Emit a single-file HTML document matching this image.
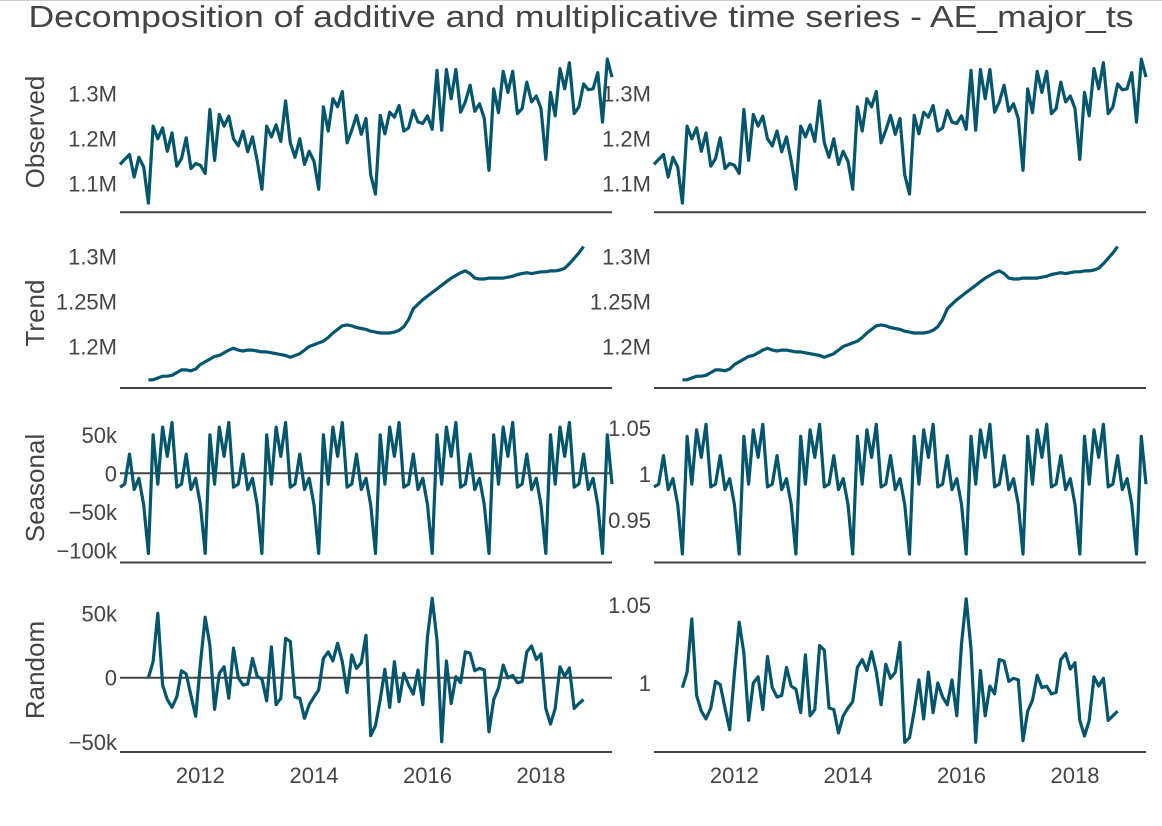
<!DOCTYPE html>
<html><head><meta charset="utf-8">
<style>
html,body{margin:0;padding:0;background:#fff;}
svg{display:block;font-family:"Liberation Sans",sans-serif;}
</style></head>
<body>
<svg id="chart" width="1162" height="826" viewBox="0 0 1162 826">
<rect x="0" y="0" width="1162" height="826" fill="#fff"/>
<line x1="0" y1="0.5" x2="1162" y2="0.5" stroke="#ccc" stroke-width="1"/>
<text x="581" y="27" text-anchor="middle" font-size="31" fill="#444" textLength="1105" lengthAdjust="spacingAndGlyphs">Decomposition of additive and multiplicative time series - AE_major_ts</text>
<g id="plots"></g>
</svg>
<script>
// Data (monthly, starting Aug 2010)
const startYear = 2010;
const startMonth = 8;
const observed = [1.142,1.153,1.164,1.114,1.158,1.136,1.056,1.227,1.199,1.223,1.171,1.212,1.138,1.155,1.201,1.133,1.144,1.140,1.122,1.264,1.151,1.253,1.227,1.249,1.199,1.183,1.216,1.170,1.203,1.150,1.087,1.227,1.203,1.230,1.193,1.283,1.190,1.158,1.199,1.142,1.171,1.149,1.087,1.270,1.216,1.288,1.270,1.304,1.190,1.218,1.251,1.209,1.244,1.119,1.076,1.251,1.210,1.258,1.247,1.273,1.216,1.223,1.262,1.236,1.233,1.250,1.220,1.351,1.218,1.353,1.288,1.353,1.258,1.281,1.318,1.260,1.277,1.244,1.129,1.310,1.257,1.349,1.302,1.349,1.255,1.266,1.325,1.281,1.294,1.266,1.153,1.302,1.250,1.355,1.310,1.368,1.255,1.270,1.321,1.308,1.310,1.346,1.236,1.376,1.336];
const trendStart = 6;
const trend = [1.163,1.163,1.165,1.167,1.167,1.168,1.171,1.174,1.174,1.173,1.175,1.180,1.183,1.186,1.189,1.190,1.193,1.196,1.198,1.196,1.195,1.196,1.196,1.195,1.194,1.194,1.193,1.192,1.191,1.190,1.188,1.190,1.192,1.196,1.200,1.202,1.204,1.206,1.210,1.215,1.219,1.223,1.224,1.223,1.221,1.220,1.219,1.217,1.216,1.215,1.215,1.215,1.216,1.218,1.222,1.230,1.242,1.247,1.252,1.256,1.260,1.264,1.268,1.272,1.276,1.279,1.282,1.284,1.281,1.276,1.275,1.275,1.276,1.276,1.276,1.276,1.277,1.278,1.280,1.281,1.282,1.281,1.282,1.283,1.283,1.284,1.284,1.285,1.287,1.292,1.298,1.304,1.311];
// seasonal pattern, Aug..Jul
const seasonalAdd = [-18,-14,25,-21,-6.5,-41,-104,50,-14,60,22,66];
const seasonalMult = [0.986,0.989,1.020,0.983,0.995,0.967,0.913,1.041,0.989,1.048,1.018,1.054];
const randomAdd = [0,12.4,50,-5.7,-17,-23,-15,5.4,2.9,-14,-30,11,47,25,-24.5,3.4,8.5,-16,23,0,-5.7,-5,15,1,-1,-18,24,-21,-16,30.6,28,-15,-16,-31.5,-21,-15,-9.5,15,20,13,26.7,12.4,-11.6,17.6,7.3,11.6,33,-45,-37,-17,6.5,-23,12.4,-18.6,3.4,-5.7,-12.7,6,-21,31.8,61.6,29,-49.7,13,-20,0.8,-3.9,20,19,5.4,7.3,6,-42,-17,-8,9.8,0,1.8,-3.9,-3,20,24.6,14.2,18.4,-23.8,-36,-23.8,8.5,1,7.6,-23.8,-20,-17];
const randomMult = [0.997,1.007,1.041,0.992,0.982,0.977,0.984,1.001,0.999,0.984,0.970,1.006,1.039,1.019,0.976,1.000,1.004,0.983,1.017,0.997,0.991,0.992,1.010,0.998,0.996,0.981,1.018,0.979,0.983,1.024,1.021,0.984,0.983,0.968,0.979,0.984,0.988,1.010,1.015,1.008,1.020,1.007,0.986,1.012,1.003,1.007,1.026,0.962,0.965,0.982,1.002,0.977,1.007,0.981,1.000,0.991,0.986,1.002,0.979,1.025,1.054,1.022,0.962,1.008,0.979,0.998,0.993,1.015,1.014,1.001,1.003,1.002,0.963,0.982,0.989,1.005,0.997,0.998,0.993,0.994,1.015,1.019,1.009,1.013,0.976,0.966,0.976,1.004,0.998,1.003,0.976,0.979,0.982];
const xTicks = [2012,2014,2016,2018];
const obsTicks = [1.1,1.2,1.3];
const obsTickLabels = ["1.1M","1.2M","1.3M"];
const trendTicks = [1.2,1.25,1.3];
const trendTickLabels = ["1.2M","1.25M","1.3M"];
const seasAddTicks = [-100,-50,0,50];
const seasAddTickLabels = ["\u2212100k","\u221250k","0","50k"];
const seasMultTicks = [0.95,1,1.05];
const seasMultTickLabels = ["0.95","1","1.05"];
const randAddTicks = [-50,0,50];
const randAddTickLabels = ["\u221250k","0","50k"];
const randMultTicks = [1,1.05];
const randMultTickLabels = ["1","1.05"];

const NS = "http://www.w3.org/2000/svg";
const g = document.getElementById("plots");
const N = observed.length;
const t0 = startYear + (startMonth - 1) / 12;
const t1 = t0 + (N - 1) / 12;
function xScale(t, left) { const x0 = left ? 120 : 654; return x0 + (t - t0) / (t1 - t0) * 492; }
function tOf(i) { return t0 + i / 12; }
function mk(tag, attrs) { const e = document.createElementNS(NS, tag); for (const k in attrs) e.setAttribute(k, attrs[k]); return e; }

const yObs = v => 93.3 + (1.3 - v) * 450;
const yTrend = v => 256.5 + (1.3 - v) * 900;
const ySeasA = v => 473.3 - v * 0.77;
const ySeasM = v => 474 - (v - 1) * 920;
const yRandA = v => 677.7 - v * 1.288;
const yRandM = v => 683 - (v - 1) * 1560;

function drawLine(vals, offset, yf, left, name) {
  let d = "";
  vals.forEach((v, k) => { const x = xScale(tOf(k + offset), left); d += (k ? "L" : "M") + x.toFixed(1) + "," + yf(v).toFixed(1); });
  const p = mk("path", {d: d, fill: "none", stroke: "#03566d", "stroke-width": 3.2, "stroke-linejoin": "round"});
  
  
  g.appendChild(p);
}
function axisLine(y, left, name) {
  const x0 = left ? 120 : 654;
  const l = mk("line", {x1: x0, x2: x0 + 492, y1: y, y2: y, stroke: "#444", "stroke-width": 2});
  
  
  g.appendChild(l);
}
function yTicks(ticks, labels, yf, left, name) {
  const xr = left ? 117 : 651;
  ticks.forEach((v, k) => {
    const t = mk("text", {x: xr, y: (yf(v) + 8).toFixed(1), "text-anchor": "end", "font-size": 22, fill: "#444"});
    t.textContent = labels[k];
    
    
    g.appendChild(t);
  });
}
function yTitle(txt, cy, name) {
  const t = mk("text", {x: 0, y: 0, "text-anchor": "middle", "font-size": 26, fill: "#444", transform: "translate(44," + cy + ") rotate(-90)"});
  t.textContent = txt;
  
  
  g.appendChild(t);
}

const seasA = [], seasM = [];
for (let i = 0; i < N; i++) { seasA.push(seasonalAdd[i % 12]); seasM.push(seasonalMult[i % 12]); }

axisLine(473.3, true, "seasonal-zero-line");
axisLine(677.7, true, "random-zero-line");

[true, false].forEach(left => {
  const side = left ? "additive" : "multiplicative";
  axisLine(212.3, left, side + "-observed-x-axis");
  axisLine(388, left, side + "-trend-x-axis");
  axisLine(562.5, left, side + "-seasonal-x-axis");
  axisLine(752, left, side + "-random-x-axis");
  drawLine(observed, 0, yObs, left, side + "-observed-line");
  drawLine(trend, trendStart, yTrend, left, side + "-trend-line");
  yTicks(obsTicks, obsTickLabels, yObs, left, side + "-observed-tick");
  yTicks(trendTicks, trendTickLabels, yTrend, left, side + "-trend-tick");
  xTicks.forEach(yr => {
    const t = mk("text", {x: xScale(yr, left).toFixed(1), y: 783, "text-anchor": "middle", "font-size": 22, fill: "#444"});
    t.textContent = yr;
    
    
    g.appendChild(t);
  });
});
drawLine(seasA, 0, ySeasA, true, "additive-seasonal-line");
drawLine(seasM, 0, ySeasM, false, "multiplicative-seasonal-line");
drawLine(randomAdd, trendStart, yRandA, true, "additive-random-line");
drawLine(randomMult, trendStart, yRandM, false, "multiplicative-random-line");
yTicks(seasAddTicks, seasAddTickLabels, ySeasA, true, "additive-seasonal-tick");
yTicks(seasMultTicks, seasMultTickLabels, ySeasM, false, "multiplicative-seasonal-tick");
yTicks(randAddTicks, randAddTickLabels, yRandA, true, "additive-random-tick");
yTicks(randMultTicks, randMultTickLabels, yRandM, false, "multiplicative-random-tick");

yTitle("Observed", 132, "observed-axis-title");
yTitle("Trend", 313, "trend-axis-title");
yTitle("Seasonal", 488, "seasonal-axis-title");
yTitle("Random", 670, "random-axis-title");
</script>
</body></html>
